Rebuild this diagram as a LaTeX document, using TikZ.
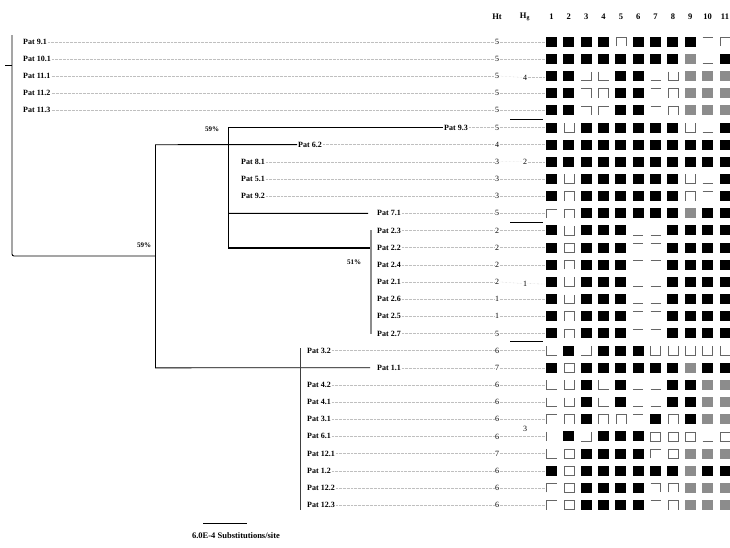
\documentclass[tikz,border=0pt]{standalone}
\usepackage{fontspec}
\setmainfont{Liberation Serif}
\tikzset{
  br/.style={line width=0.9pt, black},
  heavybr/.style={line width=2pt, black},
  graybar/.style={line width=2.2pt, black!45},
  lab/.style={anchor=west, inner sep=1pt, font=\fontsize{8}{9}\selectfont\bfseries},
  num/.style={inner sep=0.5pt, font=\fontsize{8}{9}\selectfont},
  hdr/.style={inner sep=0.5pt, font=\fontsize{8.5}{9}\selectfont\bfseries},
  bsl/.style={inner sep=0.5pt, font=\fontsize{7}{8}\selectfont\bfseries},
  lead/.style={black!25, line width=0.35pt, densely dotted},
  cellline/.style={black!60, line width=0.6pt},
  sepline/.style={line width=0.8pt, black}
}
\def\gcB{\fill[black] (-5.5,-5) rectangle (5.5,5);}
\def\gcG{\fill[black!45] (-5.5,-5) rectangle (5.5,5);}
\def\gcO{\draw[cellline] (-5,-4.5) rectangle (5,4.5);}
\def\gcU{\draw[cellline] (-5,-4.5) -- (-5,4.5) -- (5,4.5) -- (5,-4.5);}
\def\gcN{\draw[cellline] (-5,4.5) -- (-5,-4.5) -- (5,-4.5) -- (5,4.5);}
\def\gcL{\draw[cellline] (-5,-4.5) -- (-5,4.5) -- (5,4.5);}
\def\gcJ{\draw[cellline] (-5,4.5) -- (5,4.5) -- (5,-4.5);}
\def\gcF{\draw[cellline] (-5,4.5) -- (-5,-4.5) -- (5,-4.5);}
\def\gcT{\draw[cellline] (-5,-4.5) -- (5,-4.5) -- (5,4.5);}
\def\gcD{\draw[cellline] (-5,4.5) -- (5,4.5);}
\def\gcP{\draw[cellline] (-5,-4.5) -- (5,-4.5);}
\def\gcI{\draw[cellline] (-5,-4.5) -- (-5,4.5);}
\newcommand\gridrow[2]{%
  \foreach \c [count=\j] in {#2} {%
    \begin{scope}[shift={({551.5+17.35*(\j-1)},{41.7+17.16*(#1-1)})}]
      \csname gc\c\endcsname
    \end{scope}}}
\begin{document}
\begin{tikzpicture}[x=1pt,y=-1pt]
\useasboundingbox (0,0) rectangle (730,547);
\fill[white] (0,0) rectangle (730,547);

% taxon labels
\foreach \i/\x/\t in {1/22/Pat 9.1, 2/22/Pat 10.1, 3/22/Pat 11.1, 4/22/Pat 11.2, 5/22/Pat 11.3,
  6/443/Pat 9.3, 7/297/Pat 6.2, 8/240/Pat 8.1, 9/240/Pat 5.1, 10/240/Pat 9.2,
  11/376/Pat 7.1, 12/376/Pat 2.3, 13/376/Pat 2.2, 14/376/Pat 2.4, 15/376/Pat 2.1,
  16/376/Pat 2.6, 17/376/Pat 2.5, 18/376/Pat 2.7, 19/306/Pat 3.2, 20/376/Pat 1.1,
  21/306/Pat 4.2, 22/306/Pat 4.1, 23/306/Pat 3.1, 24/306/Pat 6.1, 25/306/Pat 12.1,
  26/306/Pat 1.2, 27/306/Pat 12.2, 28/306/Pat 12.3}
  {\node[lab] (t\i) at (\x,{41.7+17.16*(\i-1)}) {\t};}

% haplotype values
\foreach \i/\v in {1/5,2/5,3/5,4/5,5/5,6/5,7/4,8/3,9/3,10/3,11/5,12/2,13/2,14/2,
  15/2,16/1,17/1,18/5,19/6,20/7,21/6,22/6,23/6,24/6,25/7,26/6,27/6,28/6}
  {\node[num] (h\i) at (497,{41.7+17.16*(\i-1)}) {\v};}

% haplogroup values
\node[num] (g4) at (525,77.4) {4};
\node[num] (g2) at (525,161.7) {2};
\node[num] (g1) at (525,283.5) {1};
\node[num] (g3) at (525,429) {3};

% headers
\node[hdr] (hdt) at (497,17) {Ht};
\node[hdr] (hdg) at (525,17) {H$_{\mathbf{g}}$};
\foreach \j in {1,...,11} {\node[hdr] (col\j) at ({551.5+17.35*(\j-1)},17) {\j};}

% leaders
\foreach \i in {1,...,28} {\draw[lead] (t\i.east) -- (h\i.west);}
\foreach \i in {1,2,4,5,6,7,9,10,11,12,13,14,16,17,18,19,20,21,22,23,24,25,26,27,28}
  {\draw[lead] (h\i.east) -- (545,{41.7+17.16*(\i-1)});}
\draw[lead] (h3.east) -- (g4.west);
\draw[lead] (g4.east) -- (545,77.4);
\draw[lead] (h8.east) -- (g2.west);
\draw[lead] (g2.east) -- (545,161.7);
\draw[lead] (h15.east) -- (g1.west);
\draw[lead] (g1.east) -- (545,284.1);

% haplogroup separators
\draw[sepline] (510,119.5) -- (543,119.5);
\draw[sepline] (510,222) -- (543,222);
\draw[sepline] (510,341.7) -- (543,341.7);

% tree
\coordinate (root) at (12,256);
\coordinate (nA) at (155,256);
\draw[br, rounded corners=2pt] (12,35) -- (root) -- (nA);
\draw[br] (5,65) -- (12,65);
\draw[br] (155,144.7) -- (155,367.8);
\draw[br] (155,144.7) -- (t7.west);
\draw[br] (228,127.5) -- (228,247.7);
\draw[br] (228,127.5) -- (t6.west);
\draw[br] (228,213.3) -- ([xshift=-8pt]t11.west);
\draw[heavybr] (228,247.7) -- (370,247.7);
\draw[graybar] (371,230) -- (371,334);
\draw[br] (155,367.8) -- ([xshift=-6pt]t20.west);
\draw[line width=0.9pt, black!75] (300,348) -- (300,510);

% bootstrap values
\node[bsl] (bs1) at (212,129) {59\%};
\node[bsl] (bs2) at (144,245) {59\%};
\node[bsl] (bs3) at (354,262) {51\%};

% scale bar
\coordinate (sb1) at (203,523);
\coordinate (sb2) at (247,523);
\draw[br] (sb1) -- (sb2);
\node[hdr] (sbl) at (236,536) {6.0E-4 Substitutions/site};

% character grid
\gridrow{1}{B,B,B,B,N,B,B,B,B,P,N}
\gridrow{2}{B,B,B,B,B,B,B,B,G,D,B}
\gridrow{3}{B,B,J,L,B,B,D,U,G,G,G}
\gridrow{4}{B,B,T,N,B,B,P,N,G,G,G}
\gridrow{5}{B,B,T,F,B,B,P,N,G,G,G}
\gridrow{6}{B,U,B,B,B,B,B,B,U,D,B}
\gridrow{7}{B,B,B,B,B,B,B,B,B,B,B}
\gridrow{8}{B,B,B,B,B,B,B,B,B,B,B}
\gridrow{9}{B,U,B,B,B,B,B,B,U,D,B}
\gridrow{10}{B,N,B,B,B,B,B,B,N,P,B}
\gridrow{11}{F,N,B,B,B,B,B,B,G,B,B}
\gridrow{12}{B,U,B,B,B,D,D,B,B,B,B}
\gridrow{13}{B,O,B,B,B,P,P,B,B,B,B}
\gridrow{14}{B,N,B,B,B,P,P,B,B,B,B}
\gridrow{15}{B,U,B,B,B,D,D,B,B,B,B}
\gridrow{16}{B,U,B,B,B,D,D,B,B,B,B}
\gridrow{17}{B,N,B,B,B,P,P,B,B,B,B}
\gridrow{18}{B,N,B,B,B,P,P,B,B,B,B}
\gridrow{19}{L,B,J,B,B,B,U,U,U,U,U}
\gridrow{20}{B,O,B,B,B,B,B,B,G,B,B}
\gridrow{21}{L,U,B,L,B,D,D,B,B,G,G}
\gridrow{22}{L,U,B,L,B,D,D,B,B,G,G}
\gridrow{23}{F,N,B,N,N,P,B,N,B,G,G}
\gridrow{24}{I,B,J,B,B,B,O,O,O,D,O}
\gridrow{25}{L,O,B,B,B,B,F,O,G,G,G}
\gridrow{26}{B,O,B,B,B,B,B,B,G,B,B}
\gridrow{27}{F,O,B,B,B,B,T,N,G,G,G}
\gridrow{28}{F,O,B,B,B,B,P,N,G,G,G}
\end{tikzpicture}
\end{document}
